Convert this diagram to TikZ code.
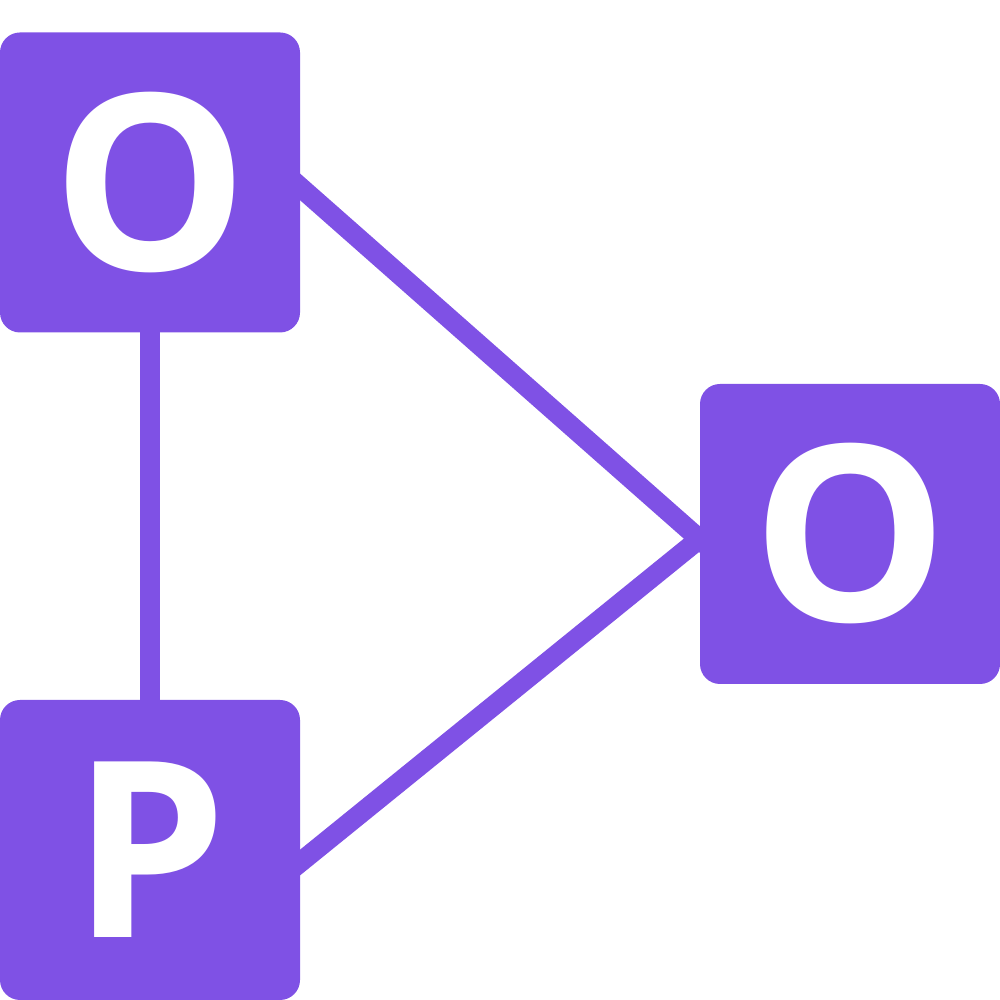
\documentclass[tikz,border=0pt]{standalone}
\usepackage{fontspec}
\setmainfont{Open Sans}
\usetikzlibrary{backgrounds}
\definecolor{violet}{HTML}{7F51E5}

\begin{document}
\begin{tikzpicture}[
  box/.style={fill=violet,text=white,rounded corners=2mm,minimum width=30mm,minimum height=30mm,inner sep=0pt,font=\fontsize{70}{70}\selectfont\bfseries},
  link/.style={draw=violet,line width=2mm,shorten <=-2mm,shorten >=-2mm}
]
\useasboundingbox (0,0) rectangle (10,10);
\node[box] (otop) at (1.5,8.175) {O};
\node[box] (oright) at (8.5,4.66) {O};
\node[box] (p) at (1.5,1.5) {P};
\begin{scope}[on background layer]
\draw[link] (otop.south) -- (p.north);
\draw[link] ([yshift=-0.5mm]otop.east) -- ([yshift=-0.5mm]oright.west);
\draw[link] ([yshift=-1.2mm]p.east) -- ([yshift=-0.5mm]oright.west);
\end{scope}
\end{tikzpicture}
\end{document}
